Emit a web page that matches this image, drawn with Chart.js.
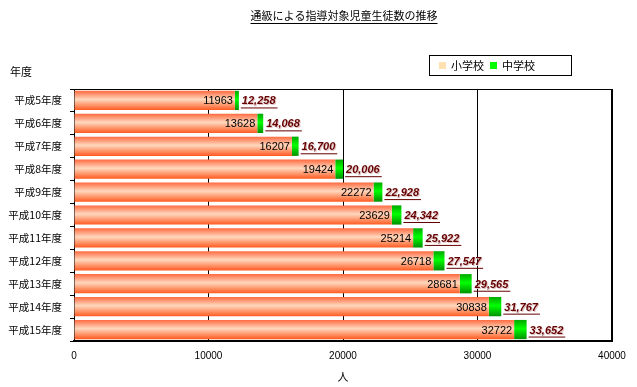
<!DOCTYPE html>
<html><head><meta charset="utf-8">
<script src="https://cdn.jsdelivr.net/npm/chart.js@4"></script>
<style>html,body{margin:0;padding:0;background:#fff}#wrap{width:637px;height:387px}</style>
</head><body><div id="wrap"><canvas id="c" width="637" height="387"></canvas></div>
<script>
const categories = ['平成5年度','平成6年度','平成7年度','平成8年度','平成9年度','平成10年度','平成11年度','平成12年度','平成13年度','平成14年度','平成15年度'];
const elementary = [11963,13628,16207,19424,22272,23629,25214,26718,28681,30838,32722];
const juniorHigh = [295,440,493,582,656,713,708,829,884,929,930];
const totals = [12258,14068,16700,20006,22928,24342,25922,27547,29565,31767,33652];
const xTicks = [0,10000,20000,30000,40000];
const titleText = '通級による指導対象児童生徒数の推移';
const yTitle = '年度';
const xTitle = '人';
const seriesNames = ['小学校','中学校'];

const JP = '"Noto Sans CJK JP", sans-serif';
const CAT_PCT = 0.84;

function gradFor(ctx, stops){
  const chart = ctx.chart;
  const ys = chart.scales && chart.scales.y;
  if(!ys || ctx.dataIndex === undefined) return stops[1][1];
  const c = ys.getPixelForValue(ctx.dataIndex);
  const step = Math.abs(ys.getPixelForValue(1) - ys.getPixelForValue(0));
  const h = step * CAT_PCT / 2;
  if(!isFinite(c) || !isFinite(h) || h <= 0) return stops[1][1];
  const g = chart.ctx.createLinearGradient(0, c - h, 0, c + h);
  stops.forEach(s => g.addColorStop(s[0], s[1]));
  return g;
}
const orangeStops = [[0,'#FF6A40'],[0.45,'#FFD8BE'],[1,'#FF5A20']];
const greenStops = [[0,'#00A800'],[0.45,'#00FF00'],[1,'#009000']];

const deco = {
  id:'deco',
  afterDatasetsDraw(chart){
    const ctx = chart.ctx, a = chart.chartArea;
    const xs = chart.scales.x, ys = chart.scales.y;
    ctx.save();
    ctx.strokeStyle = '#000';
    ctx.lineWidth = 1;
    ctx.beginPath(); ctx.moveTo(a.left, a.top+0.5); ctx.lineTo(a.right, a.top+0.5); ctx.stroke();
    ctx.lineWidth = 2;
    ctx.beginPath(); ctx.moveTo(a.right, a.top); ctx.lineTo(a.right, a.bottom+1); ctx.stroke();
    for(let i=0;i<categories.length;i++){
      const yc = ys.getPixelForValue(i);
      const xe = xs.getPixelForValue(elementary[i]);
      ctx.font = '11px "Liberation Sans", Arial, sans-serif';
      ctx.fillStyle = '#000';
      ctx.textAlign = 'right'; ctx.textBaseline = 'middle';
      ctx.fillText(String(elementary[i]), xe - 2, yc + 1);
      const xt = xs.getPixelForValue(totals[i]) + 3;
      const s = totals[i].toLocaleString('en-US');
      ctx.font = 'italic bold 11px "Liberation Sans", Arial, sans-serif';
      ctx.textAlign = 'left';
      ctx.fillStyle = '#E0C4C4';
      ctx.fillText(s, xt + 1, yc + 2);
      ctx.fillStyle = '#660000';
      ctx.fillText(s, xt, yc + 1);
      const w = ctx.measureText(s).width;
      ctx.fillRect(xt - 1, yc + 7, w + 3, 1);
    }
    ctx.restore();
  },
  afterDraw(chart){
    const ctx = chart.ctx;
    ctx.save();
    ctx.font = '11px ' + JP;
    ctx.fillStyle = '#000'; ctx.textAlign = 'center'; ctx.textBaseline = 'middle';
    ctx.fillText(titleText, 344, 16);
    const tw = ctx.measureText(titleText).width;
    ctx.fillRect(344 - tw/2, 23, tw, 1);
    ctx.textAlign = 'left';
    ctx.fillText(yTitle, 10, 72);
    ctx.strokeStyle = '#000'; ctx.lineWidth = 1;
    ctx.strokeRect(429.5, 55.5, 142, 20);
    ctx.fillStyle = '#FFE0B0'; ctx.fillRect(439, 62, 7, 7);
    ctx.fillStyle = '#00FF00'; ctx.fillRect(490, 62, 7, 7);
    ctx.fillStyle = '#000';
    ctx.fillText(seriesNames[0], 451, 66);
    ctx.fillText(seriesNames[1], 502, 66);
    ctx.restore();
  }
};

new Chart(document.getElementById('c'), {
  type:'bar',
  data:{
    labels: categories,
    datasets:[
      {label:seriesNames[0], data:elementary, backgroundColor:(c)=>gradFor(c,orangeStops), borderWidth:0, categoryPercentage:CAT_PCT, barPercentage:1},
      {label:seriesNames[1], data:juniorHigh, backgroundColor:(c)=>gradFor(c,greenStops), borderWidth:0, categoryPercentage:CAT_PCT, barPercentage:1}
    ]
  },
  options:{
    indexAxis:'y',
    responsive:false,
    animation:false,
    events:[],
    layout:{padding:{top:89, right:25, left:0, bottom:4}},
    plugins:{legend:{display:false}, title:{display:false}, tooltip:{enabled:false}},
    scales:{
      x:{
        stacked:true, min:0, max:40000,
        afterBuildTicks(s){ s.ticks = xTicks.map(v=>({value:v})); },
        afterFit(s){ s.height = 42; },
        grid:{color:'#000', lineWidth:1, drawTicks:false},
        border:{display:true, color:'#000', width:2},
        ticks:{padding:9, color:'#000', font:{family:'"Liberation Sans", Arial, sans-serif', size:10}, callback:(v)=>String(v), maxRotation:0},
        title:{display:true, text:xTitle, color:'#000', font:{family:JP, size:11}, padding:{top:2, bottom:0}}
      },
      y:{
        stacked:true,
        afterFit(s){ s.width = 74; },
        grid:{offset:true, drawOnChartArea:false, drawTicks:true, tickLength:4, color:'#000'},
        border:{display:true, color:'#000', width:1},
        ticks:{padding:8, color:'#000', font:{family:JP, size:10.5}}
      }
    }
  },
  plugins:[deco]
});
</script></body></html>
